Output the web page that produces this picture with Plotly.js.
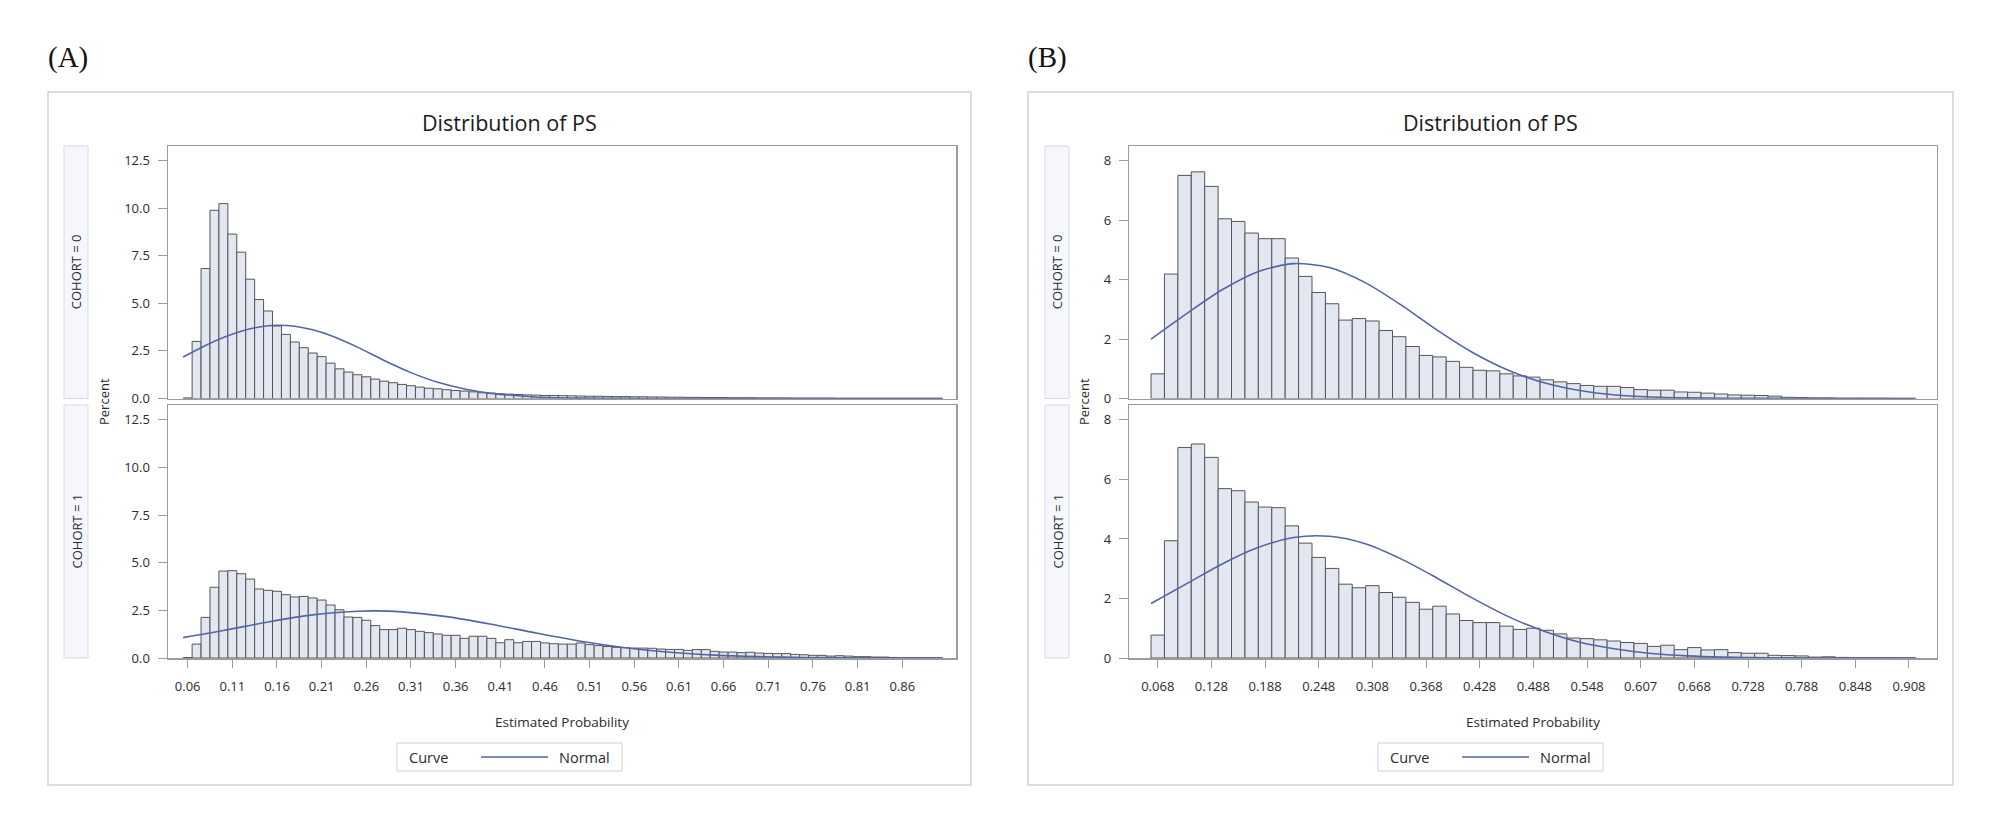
<!DOCTYPE html>
<html>
<head>
<meta charset="utf-8">
<script src="https://cdn.plot.ly/plotly-3.0.1.min.js"></script>
<style>
html,body{margin:0;padding:0;background:#fff;}
#chart{width:2008px;height:832px;}
</style>
</head>
<body>
<div id="chart"></div>
<script>
// ---------------- DATA ----------------
// Panel (A): bins of width 0.01 starting at midpoint 0.06
const binStartA = 0.06;
const binWidthA = 0.01;
const pctA_cohort0 = [0.03,3.0,6.83,9.89,10.24,8.64,7.69,6.27,5.2,4.6,3.81,3.37,2.97,2.67,2.39,2.2,1.86,1.56,1.39,1.25,1.14,1.02,0.91,0.83,0.74,0.67,0.6,0.54,0.51,0.46,0.42,0.39,0.35,0.30,0.28,0.25,0.23,0.21,0.19,0.18,0.16,0.16,
  0.15,0.14,0.13,0.12,0.12,0.11,0.10,0.10,0.09,0.09,0.08,0.08,0.07,0.07,0.06,0.06,0.05,0.05,0.05,0.04,0.04,0.04,0.03,0.03,0.03,0.03,0.02,0.02,0.02,0.02,0.02,0.01,0.01,0.01,0.01,0.01,0.01,0.01,0.01,0.01,0.01,0.01,0.01];
const pctA_cohort1 = [0.02,0.73,2.13,3.71,4.56,4.58,4.42,4.14,3.62,3.55,3.5,3.32,3.2,3.23,3.15,3.04,2.78,2.53,2.15,2.13,1.98,1.70,1.49,1.49,1.56,1.49,1.40,1.33,1.26,1.19,1.19,1.03,1.14,1.14,1.03,0.80,0.96,0.80,0.87,0.87,0.79,0.75,
  0.73,0.73,0.79,0.70,0.65,0.60,0.56,0.54,0.52,0.52,0.51,0.47,0.45,0.45,0.40,0.44,0.44,0.35,0.31,0.31,0.28,0.30,0.26,0.24,0.23,0.23,0.19,0.17,0.14,0.14,0.10,0.12,0.10,0.07,0.07,0.05,0.05,0.03,0.02,0.02,0.01,0.01,0.01];
const curveA0_x = [0.055,0.08,0.10,0.12,0.14,0.16,0.18,0.20,0.22,0.25,0.28,0.31,0.34,0.37,0.40,0.45,0.50,0.55,0.60,0.70,0.80,0.905];
const curveA0_y = [2.18,2.79,3.20,3.53,3.76,3.85,3.80,3.61,3.31,2.70,2.00,1.36,0.85,0.50,0.27,0.08,0.02,0.005,0,0,0,0];
const curveA1_x = [0.055,0.10,0.15,0.20,0.25,0.27,0.30,0.35,0.40,0.45,0.50,0.55,0.60,0.65,0.70,0.75,0.80,0.85,0.905];
const curveA1_y = [1.07,1.44,1.89,2.26,2.45,2.47,2.42,2.17,1.77,1.31,0.88,0.54,0.30,0.15,0.07,0.03,0.01,0.003,0];
const tickLabelsA = ['0.06','0.11','0.16','0.21','0.26','0.31','0.36','0.41','0.46','0.51','0.56','0.61','0.66','0.71','0.76','0.81','0.86'];

// Panel (B): bins of width 0.015 starting at midpoint 0.068
const binStartB = 0.068;
const binWidthB = 0.015;
const pctB_cohort0 = [0.83,4.19,7.51,7.63,7.14,6.05,5.96,5.57,5.38,5.38,4.73,4.11,3.57,3.19,2.64,2.69,2.61,2.29,2.08,1.75,1.45,1.40,1.25,1.05,0.95,0.93,0.83,
  0.76,0.72,0.63,0.56,0.50,0.44,0.41,0.41,0.37,0.30,0.28,0.28,0.22,0.21,0.18,0.15,0.12,0.11,0.10,0.08,0.04,0.03,0.02,0.02,0.01,0.01,0.01,0.01,0.005,0.005];
const pctB_cohort1 = [0.77,3.94,7.07,7.19,6.74,5.69,5.62,5.24,5.07,5.05,4.44,3.86,3.38,3.01,2.48,2.36,2.43,2.20,2.04,1.87,1.64,1.74,1.48,1.26,1.19,1.19,1.07,
  0.96,1.00,0.93,0.81,0.67,0.65,0.61,0.57,0.52,0.49,0.39,0.43,0.28,0.35,0.27,0.28,0.18,0.16,0.16,0.09,0.08,0.07,0.03,0.04,0.02,0.01,0.01,0.01,0.005,0.005];
const curveB0_x = [0.0605,0.10,0.14,0.18,0.22,0.26,0.30,0.34,0.38,0.42,0.46,0.50,0.54,0.58,0.62,0.66,0.70,0.80,0.9155];
const curveB0_y = [2.0,2.85,3.66,4.27,4.54,4.41,3.90,3.15,2.31,1.55,0.95,0.53,0.27,0.12,0.05,0.02,0.01,0,0];
const curveB1_x = [0.0605,0.10,0.14,0.18,0.22,0.26,0.30,0.34,0.38,0.42,0.46,0.50,0.54,0.58,0.62,0.66,0.70,0.75,0.80,0.9155];
const curveB1_y = [1.83,2.49,3.16,3.71,4.05,4.09,3.84,3.33,2.69,2.01,1.39,0.90,0.53,0.30,0.15,0.07,0.03,0.01,0,0];
const tickLabelsB = ['0.068','0.128','0.188','0.248','0.308','0.368','0.428','0.488','0.548','0.607','0.668','0.728','0.788','0.848','0.908'];
const tickStepB = 0.06;

const panelLabels = ['(A)','(B)'];
const chartTitle = 'Distribution of PS';
const stripLabels = ['COHORT = 0','COHORT = 1'];
const yTitle = 'Percent';
const xTitle = 'Estimated Probability';
const legendTitle = 'Curve';
const legendItem = 'Normal';

// ---------------- STYLE / GEOMETRY ----------------
const W = 2008, H = 832;
const px = x => x / W;
const py = y => 1 - y / H;
const FONT = '"Open Sans", "DejaVu Sans", sans-serif';
const BAR_FILL = '#e2e7f1';
const BAR_LINE = '#555555';
const CURVE = '#5265a6';
const AXIS_LINE = '#9c9c9c';
const TEXT = '#2b2b2b';

const panels = [
  {left:48, right:971, plotL:168, plotR:956, xr:[0.038,0.9201], yr:[0,13.27], strip:[64,88], pctX:104, ydt:null},
  {left:1028, right:1953, plotL:1129.3, plotR:1936.7, xr:[0.0362,0.939], yr:[0,8.5], strip:[1045,1069], pctX:1084, ydt:2}
];
const rows = [{top:146, bot:398.5}, {top:405, bot:658}];

const binsA = pctA_cohort0.map((_, i) => +(binStartA + i * binWidthA).toFixed(4));
const binsB = pctB_cohort0.map((_, i) => +(binStartB + i * binWidthB).toFixed(4));
const tickValsA = tickLabelsA.map(Number);
const tickValsB = tickLabelsB.map((_, i) => +(binStartB + i * tickStepB).toFixed(4));

const series = [
  {bins: binsA, w: binWidthA, pct: [pctA_cohort0, pctA_cohort1], cx:[curveA0_x, curveA1_x], cy:[curveA0_y, curveA1_y]},
  {bins: binsB, w: binWidthB, pct: [pctB_cohort0, pctB_cohort1], cx:[curveB0_x, curveB1_x], cy:[curveB0_y, curveB1_y]}
];

const traces = [];
const layout = {
  width: W, height: H,
  margin: {l:0, r:0, t:0, b:0},
  paper_bgcolor: '#fff', plot_bgcolor: '#fff',
  showlegend: false,
  font: {family: FONT, color: TEXT, size: 13},
  bargap: 0,
  shapes: [], annotations: []
};

let axIdx = 0;
panels.forEach((p, pi) => {
  // outer frame
  layout.shapes.push({type:'rect', xref:'paper', yref:'paper', x0:px(p.left), x1:px(p.right), y0:py(92), y1:py(785),
    line:{color:'#d2d2d2', width:1.5}, fillcolor:'rgba(0,0,0,0)', layer:'below'});
  // panel label
  layout.annotations.push({xref:'paper', yref:'paper', x:px(p.left - 2), y:py(57), xanchor:'left', yanchor:'middle',
    text: panelLabels[pi], showarrow:false, font:{family:'"Liberation Serif", "Times New Roman", serif', size:29, color:'#111'}});
  // title
  layout.annotations.push({xref:'paper', yref:'paper', x:px((p.left + p.right) / 2), y:py(122), xanchor:'center', yanchor:'middle',
    text: chartTitle, showarrow:false, font:{family:FONT, size:21.5, color:'#1a1a1a', weight:500}});
  // Percent
  layout.annotations.push({xref:'paper', yref:'paper', x:px(p.pctX), y:py(402), xanchor:'center', yanchor:'middle', textangle:-90,
    text: yTitle, showarrow:false, font:{family:FONT, size:13, color:TEXT}});
  // x title
  layout.annotations.push({xref:'paper', yref:'paper', x:px((p.plotL + p.plotR) / 2), y:py(722), xanchor:'center', yanchor:'middle',
    text: xTitle, showarrow:false, font:{family:FONT, size:13.5, color:TEXT}});
  // legend box
  const cx = (p.left + p.right) / 2;
  const lx0 = cx - 112.5;
  layout.shapes.push({type:'rect', xref:'paper', yref:'paper', x0:px(lx0), x1:px(lx0 + 225), y0:py(743), y1:py(771),
    line:{color:'#cfcfcf', width:1}, fillcolor:'#fff'});
  layout.shapes.push({type:'line', xref:'paper', yref:'paper', x0:px(lx0 + 84), x1:px(lx0 + 151), y0:py(757), y1:py(757),
    line:{color:CURVE, width:1.6}});
  layout.annotations.push({xref:'paper', yref:'paper', x:px(lx0 + 10), y:py(757), xanchor:'left', yanchor:'middle',
    text: legendTitle, showarrow:false, font:{family:FONT, size:14.5, color:TEXT}});
  layout.annotations.push({xref:'paper', yref:'paper', x:px(lx0 + 160), y:py(757), xanchor:'left', yanchor:'middle',
    text: legendItem, showarrow:false, font:{family:FONT, size:14.5, color:TEXT}});

  rows.forEach((r, ri) => {
    axIdx++;
    const xa = 'xaxis' + (axIdx === 1 ? '' : axIdx);
    const ya = 'yaxis' + (axIdx === 1 ? '' : axIdx);
    const xr = 'x' + (axIdx === 1 ? '' : axIdx);
    const yr = 'y' + (axIdx === 1 ? '' : axIdx);
    const isBottom = ri === 1;
    layout[xa] = {
      domain:[px(p.plotL), px(p.plotR)], anchor: yr, range: p.xr, fixedrange:true,
      showline:true, mirror:true, linecolor:AXIS_LINE, linewidth:1.5, showgrid:false, zeroline:false,
      tickmode:'array',
      tickvals: pi === 0 ? tickValsA : tickValsB,
      ticktext: pi === 0 ? tickLabelsA : tickLabelsB,
      showticklabels: isBottom, ticks: isBottom ? 'outside' : '', ticklen: 8, tickcolor:'#9c9c9c', tickwidth:1,
      ticklabelstandoff: 8,
      tickfont:{family:FONT, size:13, color:TEXT}
    };
    const yax = {
      domain:[py(r.bot), py(r.top)], anchor: xr, range: p.yr, fixedrange:true,
      showline:true, mirror:true, linecolor:AXIS_LINE, linewidth:1.5, showgrid:false, zeroline:false,
      ticks:'outside', ticklen:9, tickcolor:'#9c9c9c', tickwidth:1, ticklabelstandoff:5,
      tickfont:{family:FONT, size:13, color:TEXT}
    };
    if (pi === 0) { yax.tickmode = 'array'; yax.tickvals = [0,2.5,5,7.5,10,12.5]; yax.ticktext = ['0.0','2.5','5.0','7.5','10.0','12.5']; }
    else { yax.dtick = p.ydt; yax.tick0 = 0; }
    layout[ya] = yax;

    // strip box
    layout.shapes.push({type:'rect', xref:'paper', yref:'paper', x0:px(p.strip[0]), x1:px(p.strip[1]), y0:py(r.bot), y1:py(r.top),
      line:{color:'#d7dae1', width:1}, fillcolor:'#f5f7fc', layer:'below'});
    layout.annotations.push({xref:'paper', yref:'paper', x:px((p.strip[0] + p.strip[1]) / 2), y:py((r.top + r.bot) / 2),
      xanchor:'center', yanchor:'middle', textangle:-90, text: stripLabels[ri], showarrow:false,
      font:{family:FONT, size:13, color:TEXT}});

    const s = series[pi];
    traces.push({type:'bar', x: s.bins, y: s.pct[ri], width: s.w, xaxis: xr, yaxis: yr,
      marker:{color:BAR_FILL, line:{color:BAR_LINE, width:1}}, hoverinfo:'x+y'});
    traces.push({type:'scatter', mode:'lines', x: s.cx[ri], y: s.cy[ri], xaxis: xr, yaxis: yr,
      line:{color:CURVE, width:1.6, shape:'spline', smoothing:0.8}, name: legendItem, hoverinfo:'skip'});
  });
});

Plotly.newPlot('chart', traces, layout, {staticPlot:true, displayModeBar:false});
</script>
</body>
</html>
